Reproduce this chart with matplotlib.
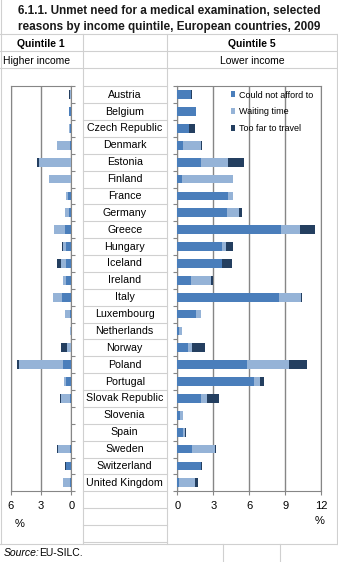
import numpy as np
import matplotlib.pyplot as plt
from matplotlib.lines import Line2D

plt.rcParams['font.family'] = ['Liberation Sans', 'DejaVu Sans']

countries = ['Austria', 'Belgium', 'Czech Republic', 'Denmark', 'Estonia', 'Finland',
             'France', 'Germany', 'Greece', 'Hungary', 'Iceland', 'Ireland', 'Italy',
             'Luxembourg', 'Netherlands', 'Norway', 'Poland', 'Portugal',
             'Slovak Republic', 'Slovenia', 'Spain', 'Sweden', 'Switzerland',
             'United Kingdom']

# Quintile 1 (higher income)
q1_afford = [0.03, 0.23, 0.10, 0.13, 0.05, 0.03, 0.33, 0.23, 0.62, 0.52, 0.52, 0.52,
             0.92, 0.13, 0.03, 0.0, 0.82, 0.52, 0.13, 0.0, 0.0, 0.13, 0.52, 0.13]
q1_wait = [0.10, 0.0, 0.13, 1.28, 3.10, 2.20, 0.20, 0.39, 1.08, 0.30, 0.49, 0.30,
           0.89, 0.49, 0.10, 0.43, 4.33, 0.20, 0.89, 0.0, 0.0, 1.18, 0.0, 0.69]
q1_far = [0.08, 0.0, 0.0, 0.0, 0.23, 0.0, 0.0, 0.0, 0.0, 0.10, 0.39, 0.0,
          0.0, 0.0, 0.0, 0.59, 0.20, 0.0, 0.10, 0.0, 0.0, 0.10, 0.10, 0.0]

# Quintile 5 (lower income)
q5_afford = [1.14, 1.56, 0.97, 0.44, 1.97, 0.39, 4.22, 4.14, 8.64, 3.72, 3.72, 1.14,
             8.47, 1.56, 0.11, 0.89, 5.81, 6.39, 1.97, 0.22, 0.47, 1.22, 1.97, 0.14]
q5_wait = [0.0, 0.0, 0.0, 1.53, 2.25, 4.25, 0.42, 1.00, 1.58, 0.33, 0.0, 1.67,
           1.83, 0.42, 0.28, 0.33, 3.50, 0.50, 0.50, 0.25, 0.17, 1.92, 0.0, 1.33]
q5_far = [0.06, 0.0, 0.50, 0.08, 1.33, 0.0, 0.0, 0.25, 1.25, 0.58, 0.83, 0.17,
          0.08, 0.0, 0.0, 1.08, 1.50, 0.33, 1.00, 0.0, 0.08, 0.08, 0.08, 0.25]

series = ['Could not afford to', 'Waiting time', 'Too far to travel']
colors = ['#4a7ebb', '#95b3d7', '#243f60']

W, H = 338, 562
fig = plt.figure(figsize=(W / 100, H / 100), dpi=100)


def fx(x):
    return x / W


def fy(y):
    return 1 - y / H


def hline(y, x0, x1, c='#d0d0d0'):
    fig.add_artist(Line2D([fx(x0), fx(x1)], [fy(y), fy(y)], color=c, lw=0.8))


def vline(x, y0, y1, c='#d0d0d0'):
    fig.add_artist(Line2D([fx(x), fx(x)], [fy(y0), fy(y1)], color=c, lw=0.8))


# sheet grid lines
for y in [34.3, 51, 68.3]:
    hline(y, 0, W)
hline(543.5, 0, W)
vline(0.7, 0, 543.5)
vline(82.7, 34.3, 543.5)
vline(166.7, 34.3, 543.5)
vline(336.7, 34.3, 543.5)
vline(223, 543.5, H)
vline(280, 543.5, H)
top, bot = 86.3, 491.3
step = (bot - top) / len(countries)
for k in range(len(countries) + 4):
    hline(top + k * step, 82.7, 166.7)

# titles
fig.text(0.5, fy(11), '6.1.1. Unmet need for a medical examination, selected',
         ha='center', va='center', fontsize=8.5, fontweight='bold', color='#1a1a1a')
fig.text(0.5, fy(27), 'reasons by income quintile, European countries, 2009',
         ha='center', va='center', fontsize=8.5, fontweight='bold', color='#1a1a1a')
fig.text(fx(41), fy(44), 'Quintile 1', ha='center', va='center', fontsize=7.5, fontweight='bold')
fig.text(fx(252), fy(44), 'Quintile 5', ha='center', va='center', fontsize=7.5, fontweight='bold')
fig.text(fx(3), fy(61), 'Higher income', ha='left', va='center', fontsize=7.5)
fig.text(fx(252), fy(61), 'Lower income', ha='center', va='center', fontsize=7.5)

y = np.arange(len(countries))
bh = 0.52
bounds = np.arange(len(countries) + 1) - 0.5

ax_l = fig.add_axes([fx(10.7), fy(bot), fx(71.3) - fx(10.7), (bot - top) / H])
ax_r = fig.add_axes([fx(177.3), fy(bot), fx(321.3) - fx(177.3), (bot - top) / H])

for ax, data in [(ax_l, (q1_afford, q1_wait, q1_far)), (ax_r, (q5_afford, q5_wait, q5_far))]:
    left = np.zeros(len(countries))
    for vals, col, lab in zip(data, colors, series):
        vals = np.array(vals)
        ax.barh(y, vals, left=left, height=bh, color=col, label=lab, zorder=3)
        left += vals
    ax.set_ylim(len(countries) - 0.5, -0.5)
    ax.set_yticks(bounds)
    ax.set_yticklabels([])
    ax.grid(axis='x', color='#868686', lw=1, zorder=1)
    for s in ax.spines.values():
        s.set_color('#868686')
    ax.tick_params(axis='both', direction='out', length=3, color='#868686',
                   labelsize=8, pad=4)

ax_l.set_xlim(6, 0)
ax_l.set_xticks([6, 3, 0])
ax_l.yaxis.tick_right()
ax_r.set_xlim(0, 12)
ax_r.set_xticks([0, 3, 6, 9, 12])

for i, c in enumerate(countries):
    fig.text(fx(124.7), fy(top + (i + 0.5) * step), c, ha='center', va='center', fontsize=7.7)

fig.text(fx(20), fy(524), '%', ha='center', va='center', fontsize=8)
fig.text(fx(320), fy(521), '%', ha='center', va='center', fontsize=8)

ax_r.legend(loc='upper left', bbox_to_anchor=(fx(230.5), fy(90.5)), bbox_transform=fig.transFigure,
            frameon=False, fontsize=6.5, handlelength=0.45, handleheight=0.6,
            handletextpad=0.45, labelspacing=0.85, borderpad=0, borderaxespad=0)

fig.text(fx(4), fy(553), 'Source:', ha='left', va='center', fontsize=7.5, style='italic')
fig.text(fx(39), fy(553), 'EU-SILC.', ha='left', va='center', fontsize=7.5)

fig.savefig('out.png', dpi=100)
